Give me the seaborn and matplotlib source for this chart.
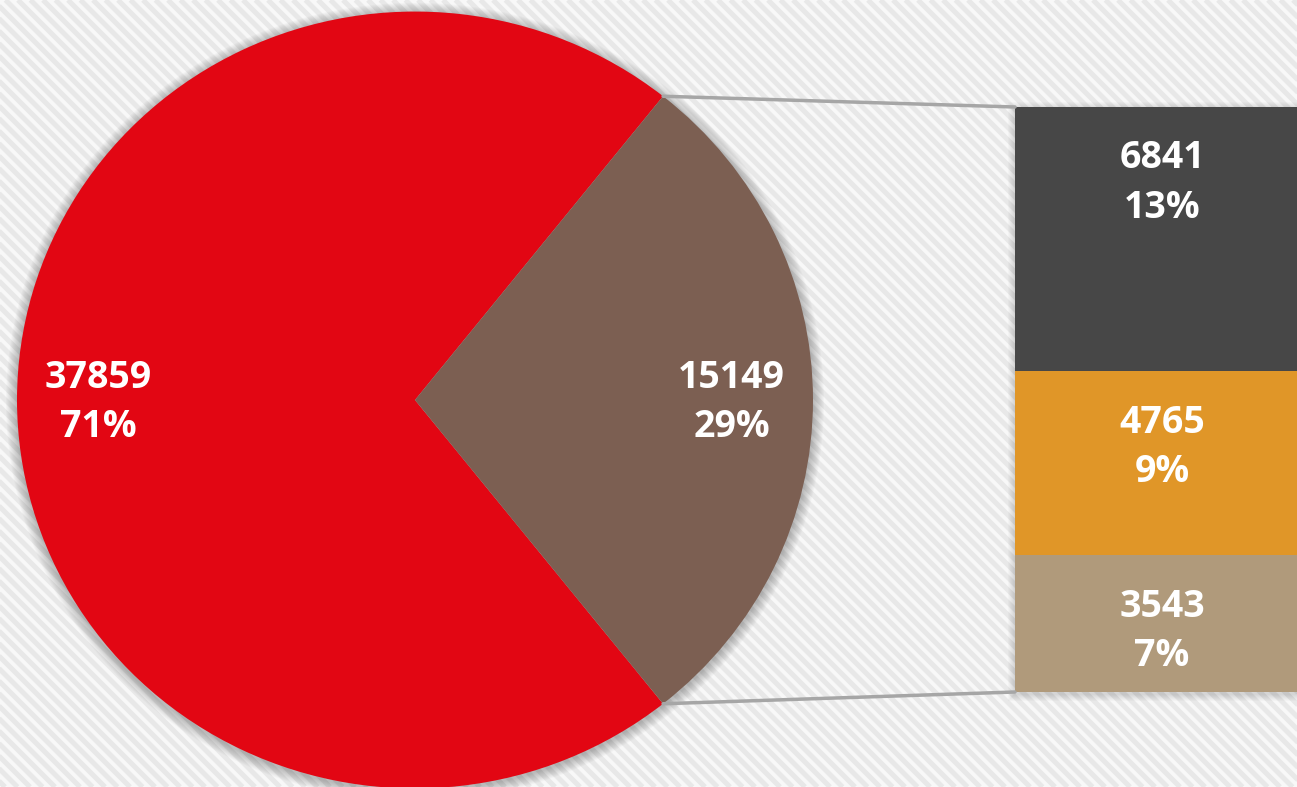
import numpy as np
import pandas as pd
import matplotlib
matplotlib.use('Agg')
import matplotlib.pyplot as plt
import seaborn as sns
from matplotlib.patches import Rectangle, Circle, ConnectionPatch
from matplotlib.collections import LineCollection

# ---- data ----
pie_labels = ['Rest', 'Split']
pie_values = [37859, 15149]
bar_labels = ['Part 1', 'Part 2', 'Part 3']   # top to bottom
bar_values = [6841, 4765, 3543]
pie_colors = ['#e20613', '#7c5f52']
bar_colors = ['#474747', '#e09628', '#b09a7b']

sns.set_theme(style='white')
plt.rcParams['font.family'] = ['Open Sans', 'DejaVu Sans']

total = sum(pie_values)
W, H = 1297, 787
fig = plt.figure(figsize=(W / 100, H / 100), dpi=100)
fig.patch.set_facecolor('#f8f8f8')

# striped background
bgax = fig.add_axes([0, 0, 1, 1], zorder=-10)
bgax.set_xlim(0, W)
bgax.set_ylim(0, H)
bgax.axis('off')
segs = [[(x, H), (x + H, 0)] for x in np.arange(-H - 20, W + 20, 12.5)]
bgax.add_collection(LineCollection(segs, colors='#e8e8e8', linewidths=3.6))

sy = 0.976  # slight vertical squash of the pie (as in reference)
ax = fig.add_axes([0, 0, 1, 1])
ax.patch.set_alpha(0)
cx, cy, r = 415, (H - 400) / sy, 398

# soft shadow
for k in range(1, 12):
    ax.add_patch(Circle((cx, cy - 2), r + k, facecolor='#000000', alpha=0.022,
                        lw=0, zorder=0))

half = 180 * pie_values[1] / total
txtprops = dict(color='white', fontsize=27, fontweight='bold', linespacing=1.38)


def fmt(pct):
    v = int(round(pct * total / 100))
    return f'{v}\n{pct:.0f}%'


wedges, _, autot = ax.pie(pie_values, colors=pie_colors, startangle=half,
                          counterclock=True, center=(cx, cy), radius=r,
                          autopct=fmt, pctdistance=0.795,
                          wedgeprops=dict(linewidth=0, zorder=2),
                          textprops=txtprops)
for t in autot:
    x, y = t.get_position()
    t.set_position((x, y - 3))
ax.set_aspect('auto')
ax.set_xlim(0, W)
ax.set_ylim(0, H / sy)
ax.axis('off')

# ---- stacked bar ----
bx0, bx1, by0, by1 = 1015, 1309, 95, 680
# shadow behind bar
for k in range(1, 8):
    ax.add_patch(Rectangle((bx0 - k, (by0 - k - 2) / sy), bx1 - bx0 + 2 * k,
                           (by1 - by0 + 2 * k) / sy, facecolor='black',
                           alpha=0.02, lw=0, zorder=0))
bax = fig.add_axes([bx0 / W, by0 / H, (bx1 - bx0) / W, (by1 - by0) / H])
bax.patch.set_alpha(0)
sub_total = sum(bar_values)
tops = np.cumsum(bar_values[::-1])[::-1]
for lab, v, c, top in zip(bar_labels, bar_values, bar_colors, tops):
    bax.bar(0, v, bottom=top - v, width=1, color=c, linewidth=0)
    bax.annotate(f'{v}\n{100 * v / total:.0f}%', xy=(0, top), xytext=(0, -76),
                 textcoords='offset pixels', ha='center', va='center',
                 **txtprops)
bax.set_xlim(-0.5, 0.5)
bax.set_ylim(0, sub_total)
bax.axis('off')

# ---- connector lines ----
th = np.deg2rad(half)
for sgn, yb in [(1, sub_total), (-1, 0)]:
    p = (cx + r * np.cos(th), cy + sgn * r * np.sin(th))
    con = ConnectionPatch(xyA=p, coordsA=ax.transData, xyB=(-0.5, yb),
                          coordsB=bax.transData, color='#a6a6a6', lw=2.5,
                          zorder=1)
    fig.add_artist(con)

fig.savefig('out.png', dpi=100)
